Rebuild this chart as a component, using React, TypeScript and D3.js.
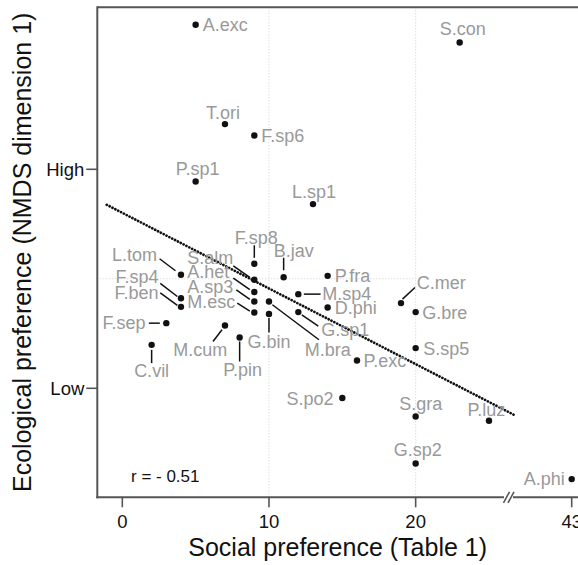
import React from "react";
import * as d3 from "d3";

// ---------- data ----------
const species = [
  "A.exc", "S.con", "T.ori", "F.sp6", "P.sp1", "L.sp1", "F.sp8", "B.jav", "P.fra",
  "L.tom", "S.alm", "A.het", "A.sp3", "M.esc", "F.sp4", "F.ben", "M.sp4", "D.phi",
  "G.sp1", "M.bra", "G.bin", "C.mer", "G.bre", "S.sp5", "F.sep", "M.cum", "P.pin",
  "C.vil", "P.exc", "S.po2", "S.gra", "P.luz", "G.sp2", "A.phi",
];
const social = [
  5, 23, 7, 9, 5, 13, 9, 11, 14,
  4, 9, 9, 9, 9, 4, 4, 12, 14,
  12, 10, 10, 19, 20, 20, 3, 7, 8,
  2, 16, 15, 20, 25, 20, 43,
];
const ecological = [
  2.32, 2.158, 1.413, 1.309, 0.889, 0.682, 0.137, 0.014, 0.027,
  0.037, -0.009, -0.121, -0.207, -0.308, -0.178, -0.256, -0.14, -0.262,
  -0.304, -0.207, -0.322, -0.222, -0.304, -0.633, -0.405, -0.426, -0.536,
  -0.603, -0.746, -1.089, -1.258, -1.297, -1.687, -1.829,
];
const xTicks = [0, 10, 20, 43];
const xGrid = [10, 20];
const yTickValues = [1, -1];
const yTickLabels = ["High", "Low"];
const correlationText = "r = - 0.51";
const fitIntercept = 0.604;
const fitSlope = -0.06763;
const fitRange = [-1.06, 27.3];
const axisBreak = 26.5;

// ---------- label layout (annotation placement, px offsets from the point) ----------
type Lab = { dx: number; dy: number; a: "start" | "middle" | "end"; l?: number[] };
const layout: Record<string, Lab> = {
  "A.exc": { dx: 7, dy: 0, a: "start" },
  "S.con": { dx: 3, dy: -13.5, a: "middle" },
  "T.ori": { dx: -2, dy: -12, a: "middle" },
  "F.sp6": { dx: 7, dy: 0, a: "start" },
  "P.sp1": { dx: 2, dy: -12.7, a: "middle" },
  "L.sp1": { dx: 1, dy: -12.6, a: "middle" },
  "F.sp8": { dx: 2, dy: -26.6, a: "middle", l: [0, -18.5, 0, -6] },
  "B.jav": { dx: 10, dy: -26.8, a: "middle", l: [0, -19.5, 0, -7] },
  "P.fra": { dx: 7, dy: 0, a: "start" },
  "L.tom": { dx: -24, dy: -20, a: "end", l: [-21.4, -16, -5.5, -4] },
  "S.alm": { dx: -67, dy: -22, a: "start", l: [-21, -14, -4.5, -2.5] },
  "A.het": { dx: -67, dy: -20.6, a: "start", l: [-21, -14, -4.5, -2.5] },
  "A.sp3": { dx: -67, dy: -15, a: "start", l: [-18, -11.5, -4.5, -2] },
  "M.esc": { dx: -67, dy: -11, a: "start", l: [-17, -9.4, -4.5, -1.5] },
  "F.sp4": { dx: -22.4, dy: -21.7, a: "end", l: [-20.7, -15, -3.6, -1.8] },
  "F.ben": { dx: -22.4, dy: -14, a: "end", l: [-20.7, -14, -3.6, -1.5] },
  "M.sp4": { dx: 24, dy: -0.8, a: "start", l: [5.5, 0, 22.3, 0] },
  "D.phi": { dx: 7, dy: 0, a: "start" },
  "G.sp1": { dx: 23, dy: 17.7, a: "start", l: [3.5, 2.8, 20, 14] },
  "M.bra": { dx: 35.7, dy: 48.3, a: "start", l: [3.4, 3.3, 50, 38.3] },
  "G.bin": { dx: 0, dy: 27.4, a: "middle", l: [0, 4, 0, 18.5] },
  "C.mer": { dx: 15.7, dy: -21, a: "start", l: [1.5, -4, 14, -15.6] },
  "G.bre": { dx: 6.5, dy: 0, a: "start" },
  "S.sp5": { dx: 7.5, dy: 0, a: "start" },
  "F.sep": { dx: -20.7, dy: -0.5, a: "end", l: [-17.4, 0, -6.5, 0] },
  "M.cum": { dx: -24.7, dy: 23.6, a: "middle", l: [-3, 4.3, -12, 16] },
  "P.pin": { dx: 3, dy: 32.3, a: "middle", l: [0, 4, 0, 24] },
  "C.vil": { dx: 0, dy: 25.7, a: "middle", l: [0, 5, 0, 18.3] },
  "P.exc": { dx: 6.6, dy: 0, a: "start" },
  "S.po2": { dx: -8.7, dy: 0, a: "end" },
  "S.gra": { dx: 5, dy: -12.7, a: "middle" },
  "P.luz": { dx: -2.6, dy: -11, a: "middle" },
  "G.sp2": { dx: 2, dy: -13.7, a: "middle" },
  "A.phi": { dx: -7, dy: -1, a: "end" },
};

const W = 578;
const H = 565;
const left = 97.3;
const top = 7.3;
const bottom = 497.3;
const right = 578;

const labelFont = "'Liberation Sans', Arial, Helvetica, sans-serif";

export default function App() {
  const x = d3.scaleLinear().domain([0, axisBreak, 43]).range([122.3, 511, 571.7]);
  const y = d3.scaleLinear().domain([-1, 1]).range([388.3, 169.3]);
  const axisColor = "#555";
  const bx = x(axisBreak);

  const fitLine = d3.line<number>().x((v) => x(v)).y((v) => y(fitIntercept + fitSlope * v));

  return (
    <svg
      width={W}
      height={H}
      style={{ position: "absolute", left: 0, top: 0, display: "block", background: "#fff" }}
      fontFamily={labelFont}
    >
      {/* grid */}
      {xGrid.map((v) => (
        <line key={v} x1={x(v)} x2={x(v)} y1={top} y2={bottom} stroke="#cfcfcf" strokeWidth={1} strokeDasharray="1,2" />
      ))}
      <line x1={left} x2={x(20)} y1={y(0)} y2={y(0)} stroke="#cfcfcf" strokeWidth={1} strokeDasharray="1,2" />

      {/* frame */}
      <line x1={left} x2={right} y1={top} y2={top} stroke={axisColor} strokeWidth={2} />
      <line x1={left} x2={left} y1={top - 1} y2={bottom + 1} stroke={axisColor} strokeWidth={2} />
      <line x1={left - 1} x2={bx - 7} y1={bottom} y2={bottom} stroke={axisColor} strokeWidth={2} />
      <line x1={bx + 2} x2={right} y1={bottom} y2={bottom} stroke={axisColor} strokeWidth={2} />
      <line x1={bx - 7.5} y1={bottom + 5.5} x2={bx - 1.5} y2={bottom - 5.5} stroke={axisColor} strokeWidth={1.6} />
      <line x1={bx - 3} y1={bottom + 5.5} x2={bx + 3} y2={bottom - 5.5} stroke={axisColor} strokeWidth={1.6} />

      {/* x ticks */}
      {xTicks.map((v) => (
        <g key={v}>
          <line x1={x(v)} x2={x(v)} y1={bottom} y2={bottom + 10} stroke={axisColor} strokeWidth={1.6} />
          <text x={x(v)} y={528} textAnchor="middle" fontSize={18.5} fill="#111">
            {v}
          </text>
        </g>
      ))}
      {/* y ticks */}
      {yTickValues.map((v, i) => (
        <g key={v}>
          <line x1={left - 11} x2={left} y1={y(v)} y2={y(v)} stroke={axisColor} strokeWidth={1.6} />
          <text x={left - 13} y={y(v)} dy="0.35em" textAnchor="end" fontSize={18.5} fill="#111">
            {yTickLabels[i]}
          </text>
        </g>
      ))}

      {/* axis titles */}
      <text x={(left + right) / 2} y={556} textAnchor="middle" fontSize={25} fill="#111">
        Social preference (Table 1)
      </text>
      <text
        transform={`translate(31,${(top + bottom) / 2}) rotate(-90)`}
        textAnchor="middle"
        fontSize={25}
        fill="#111"
      >
        Ecological preference (NMDS dimension 1)
      </text>

      {/* regression */}
      <path
        d={fitLine(fitRange) || ""}
        fill="none"
        stroke="#111"
        strokeWidth={2.7}
        strokeDasharray="0.1,3.1"
        strokeLinecap="round"
      />

      {/* leaders, points, labels */}
      {species.map((s, i) => {
        const px = x(social[i]);
        const py = y(ecological[i]);
        const L = layout[s];
        return (
          <g key={s}>
            {L.l && (
              <line x1={px + L.l[0]} y1={py + L.l[1]} x2={px + L.l[2]} y2={py + L.l[3]} stroke="#111" strokeWidth={1.5} />
            )}
            <circle cx={px} cy={py} r={3.2} fill="#111" />
            <text x={px + L.dx} y={py + L.dy} dy="0.36em" textAnchor={L.a} fontSize={18} fill="#999">
              {s}
            </text>
          </g>
        );
      })}

      <text x={131} y={482} fontSize={17} fill="#111">
        {correlationText}
      </text>
    </svg>
  );
}
